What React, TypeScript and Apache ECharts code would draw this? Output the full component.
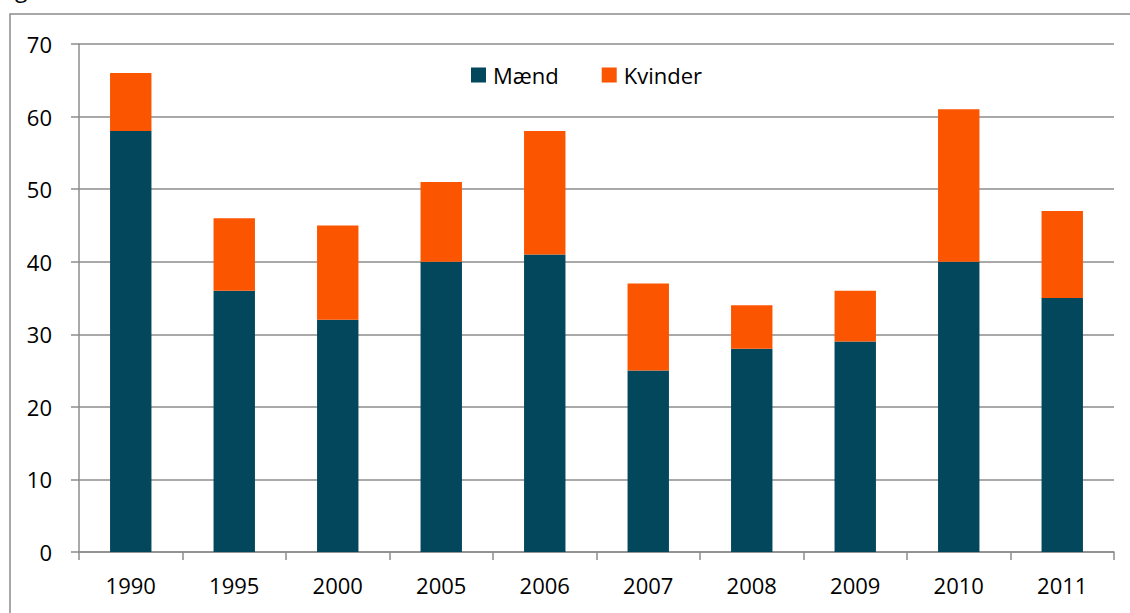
import React, { useEffect, useRef } from "react";
import * as echarts from "echarts";

const years = ["1990", "1995", "2000", "2005", "2006", "2007", "2008", "2009", "2010", "2011"];
const maend = [58, 36, 32, 40, 41, 25, 28, 29, 40, 35];
const kvinder = [8, 10, 13, 11, 17, 12, 6, 7, 21, 12];

const FONT = "'Open Sans', 'Noto Sans', sans-serif";

export default function App() {
  const ref = useRef<HTMLDivElement>(null);
  useEffect(() => {
    if (!ref.current) return;
    const chart = echarts.init(ref.current, null, { renderer: "svg" });
    chart.setOption({
      animation: false,
      backgroundColor: "#ffffff",
      textStyle: { fontFamily: FONT },
      graphic: [
        {
          type: "rect",
          shape: { x: 10, y: 14, width: 1200, height: 700 },
          style: { fill: "none", stroke: "#8c8c8c", lineWidth: 1.5 },
          silent: true,
        },
        {
          type: "text",
          x: 15,
          y: -24,
          style: { text: "g", font: `23px ${FONT}`, fill: "#000" },
          silent: true,
        },
      ],
      legend: {
        top: 59,
        left: 466,
        itemWidth: 15,
        itemHeight: 15,
        itemGap: 43,
        icon: "rect",
        textStyle: { fontSize: 22, color: "#000", fontFamily: FONT, padding: [0, 0, 0, 2] },
        data: ["Mænd", "Kvinder"],
      },
      grid: { left: 79, right: 16, top: 44, bottom: 61, containLabel: false },
      xAxis: {
        type: "category",
        data: years,
        axisLine: { lineStyle: { color: "#8c8c8c", width: 1.5 } },
        axisTick: { show: true, length: 8, lineStyle: { color: "#8c8c8c", width: 1.5 } },
        axisLabel: { fontSize: 22, color: "#000", margin: 22, fontFamily: FONT },
      },
      yAxis: {
        type: "value",
        min: 0,
        max: 70,
        interval: 10,
        axisLine: { show: true, lineStyle: { color: "#8c8c8c", width: 1.5 } },
        axisTick: { show: true, length: 8, lineStyle: { color: "#8c8c8c", width: 1.5 } },
        splitLine: { lineStyle: { color: "#8c8c8c", width: 1.5 } },
        axisLabel: { fontSize: 22, color: "#000", margin: 27, fontFamily: FONT },
      },
      series: [
        {
          name: "Mænd",
          type: "bar",
          stack: "total",
          data: maend,
          barWidth: "40%",
          itemStyle: { color: "#02475c" },
        },
        {
          name: "Kvinder",
          type: "bar",
          stack: "total",
          data: kvinder,
          barWidth: "40%",
          itemStyle: { color: "#fb5500" },
        },
      ],
    });
    return () => chart.dispose();
  }, []);
  return (
    <div
      ref={ref}
      style={{ position: "fixed", left: 0, top: 0, width: 1130, height: 613 }}
    />
  );
}
